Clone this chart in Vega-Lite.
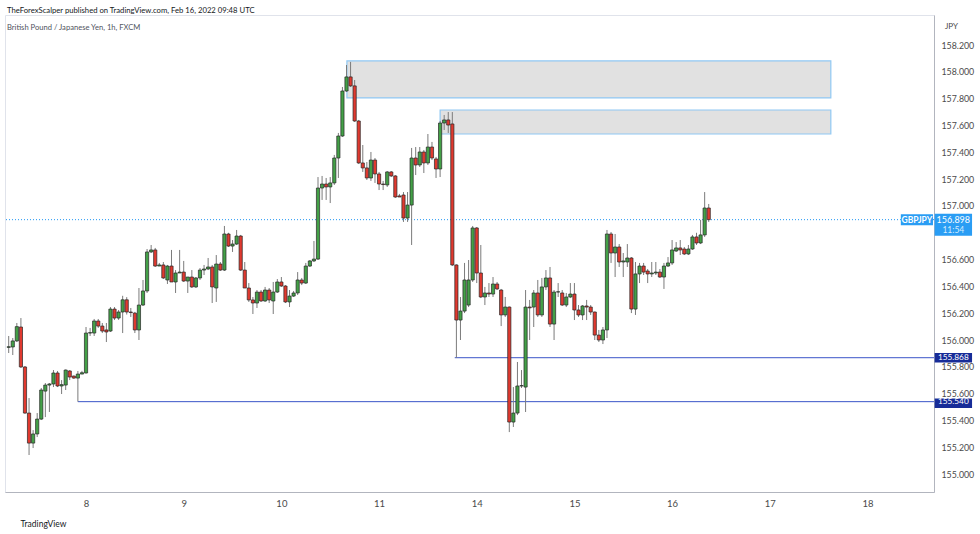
{
  "$schema": "https://vega.github.io/schema/vega-lite/v6.json",
  "width": 929,
  "height": 477,
  "autosize": {"type": "none"},
  "padding": {"left": 5, "top": 15, "right": 46, "bottom": 42},
  "background": "#ffffff",
  "config": {
    "font": "Lato",
    "view": {"stroke": "#e0e3eb"},
    "scale": {"continuousPadding": 0},
    "axis": {"labelOverlap": false}
  },
  "title": {
    "text": "TheForexScalper published on TradingView.com, Feb 16, 2022 09:48 UTC",
    "subtitle": "British Pound / Japanese Yen, 1h, FXCM",
    "anchor": "start",
    "frame": "group",
    "offset": -17,
    "dx": 2,
    "font": "Lato",
    "fontSize": 7.7,
    "fontWeight": "normal",
    "color": "#131722",
    "subtitleFont": "Lato",
    "subtitleFontSize": 7.6,
    "subtitleColor": "#50535e",
    "subtitlePadding": 10
  },
  "datasets": {
    "candles": [
      {"i":0,"o":155.945,"h":156.030,"l":155.903,"c":155.950},
      {"i":1,"o":155.948,"h":156.015,"l":155.888,"c":155.993},
      {"i":2,"o":155.993,"h":156.127,"l":155.985,"c":156.100},
      {"i":3,"o":156.097,"h":156.164,"l":155.791,"c":155.799},
      {"i":4,"o":155.799,"h":155.806,"l":155.450,"c":155.455},
      {"i":5,"o":155.455,"h":155.567,"l":155.142,"c":155.231},
      {"i":6,"o":155.231,"h":155.328,"l":155.194,"c":155.299},
      {"i":7,"o":155.299,"h":155.455,"l":155.276,"c":155.410},
      {"i":8,"o":155.410,"h":155.642,"l":155.403,"c":155.627},
      {"i":9,"o":155.619,"h":155.679,"l":155.425,"c":155.664},
      {"i":10,"o":155.664,"h":155.679,"l":155.463,"c":155.672},
      {"i":11,"o":155.672,"h":155.776,"l":155.649,"c":155.754},
      {"i":12,"o":155.754,"h":155.769,"l":155.649,"c":155.657},
      {"i":13,"o":155.657,"h":155.701,"l":155.597,"c":155.667},
      {"i":14,"o":155.664,"h":155.780,"l":155.627,"c":155.776},
      {"i":15,"o":155.769,"h":155.776,"l":155.701,"c":155.724},
      {"i":16,"o":155.731,"h":155.735,"l":155.710,"c":155.716},
      {"i":17,"o":155.716,"h":155.769,"l":155.540,"c":155.746},
      {"i":18,"o":155.746,"h":155.770,"l":155.746,"c":155.756},
      {"i":19,"o":155.754,"h":156.097,"l":155.750,"c":156.052},
      {"i":20,"o":156.052,"h":156.090,"l":156.030,"c":156.055},
      {"i":21,"o":156.052,"h":156.157,"l":156.030,"c":156.142},
      {"i":22,"o":156.142,"h":156.157,"l":156.090,"c":156.104},
      {"i":23,"o":156.104,"h":156.127,"l":156.052,"c":156.067},
      {"i":24,"o":156.075,"h":156.127,"l":155.985,"c":156.060},
      {"i":25,"o":156.067,"h":156.246,"l":156.060,"c":156.231},
      {"i":26,"o":156.231,"h":156.246,"l":156.149,"c":156.164},
      {"i":27,"o":156.164,"h":156.224,"l":156.150,"c":156.209},
      {"i":28,"o":156.209,"h":156.330,"l":156.052,"c":156.300},
      {"i":29,"o":156.300,"h":156.320,"l":156.190,"c":156.209},
      {"i":30,"o":156.209,"h":156.239,"l":156.172,"c":156.205},
      {"i":31,"o":156.201,"h":156.210,"l":156.052,"c":156.075},
      {"i":32,"o":156.075,"h":156.388,"l":156.000,"c":156.261},
      {"i":33,"o":156.261,"h":156.448,"l":156.254,"c":156.366},
      {"i":34,"o":156.366,"h":156.679,"l":156.351,"c":156.657},
      {"i":35,"o":156.657,"h":156.709,"l":156.649,"c":156.672},
      {"i":36,"o":156.672,"h":156.687,"l":156.545,"c":156.552},
      {"i":37,"o":156.552,"h":156.575,"l":156.552,"c":156.560},
      {"i":38,"o":156.560,"h":156.582,"l":156.455,"c":156.463},
      {"i":39,"o":156.448,"h":156.560,"l":156.418,"c":156.552},
      {"i":40,"o":156.552,"h":156.672,"l":156.433,"c":156.433},
      {"i":41,"o":156.433,"h":156.522,"l":156.351,"c":156.500},
      {"i":42,"o":156.500,"h":156.672,"l":156.500,"c":156.507},
      {"i":43,"o":156.507,"h":156.590,"l":156.433,"c":156.440},
      {"i":44,"o":156.440,"h":156.470,"l":156.351,"c":156.470},
      {"i":45,"o":156.470,"h":156.522,"l":156.388,"c":156.396},
      {"i":46,"o":156.396,"h":156.470,"l":156.388,"c":156.463},
      {"i":47,"o":156.463,"h":156.537,"l":156.448,"c":156.522},
      {"i":48,"o":156.522,"h":156.560,"l":156.485,"c":156.530},
      {"i":49,"o":156.530,"h":156.612,"l":156.522,"c":156.545},
      {"i":50,"o":156.545,"h":156.560,"l":156.276,"c":156.396},
      {"i":51,"o":156.388,"h":156.634,"l":156.284,"c":156.567},
      {"i":52,"o":156.567,"h":156.582,"l":156.515,"c":156.522},
      {"i":53,"o":156.522,"h":156.851,"l":156.515,"c":156.791},
      {"i":54,"o":156.791,"h":156.800,"l":156.694,"c":156.701},
      {"i":55,"o":156.701,"h":156.746,"l":156.657,"c":156.716},
      {"i":56,"o":156.716,"h":156.821,"l":156.709,"c":156.776},
      {"i":57,"o":156.776,"h":156.784,"l":156.515,"c":156.522},
      {"i":58,"o":156.522,"h":156.582,"l":156.388,"c":156.388},
      {"i":59,"o":156.388,"h":156.425,"l":156.284,"c":156.299},
      {"i":60,"o":156.299,"h":156.321,"l":156.194,"c":156.276},
      {"i":61,"o":156.276,"h":156.373,"l":156.239,"c":156.358},
      {"i":62,"o":156.358,"h":156.373,"l":156.284,"c":156.291},
      {"i":63,"o":156.291,"h":156.396,"l":156.284,"c":156.373},
      {"i":64,"o":156.373,"h":156.388,"l":156.276,"c":156.299},
      {"i":65,"o":156.291,"h":156.433,"l":156.194,"c":156.358},
      {"i":66,"o":156.358,"h":156.455,"l":156.351,"c":156.433},
      {"i":67,"o":156.433,"h":156.470,"l":156.396,"c":156.403},
      {"i":68,"o":156.403,"h":156.410,"l":156.276,"c":156.284},
      {"i":69,"o":156.284,"h":156.373,"l":156.246,"c":156.328},
      {"i":70,"o":156.328,"h":156.366,"l":156.321,"c":156.351},
      {"i":71,"o":156.351,"h":156.507,"l":156.336,"c":156.448},
      {"i":72,"o":156.448,"h":156.463,"l":156.410,"c":156.425},
      {"i":73,"o":156.425,"h":156.575,"l":156.418,"c":156.552},
      {"i":74,"o":156.552,"h":156.597,"l":156.545,"c":156.590},
      {"i":75,"o":156.590,"h":156.739,"l":156.582,"c":156.604},
      {"i":76,"o":156.604,"h":157.216,"l":156.597,"c":157.134},
      {"i":77,"o":157.134,"h":157.224,"l":157.045,"c":157.164},
      {"i":78,"o":157.164,"h":157.209,"l":157.045,"c":157.142},
      {"i":79,"o":157.142,"h":157.216,"l":157.022,"c":157.172},
      {"i":80,"o":157.172,"h":157.381,"l":157.157,"c":157.358},
      {"i":81,"o":157.358,"h":157.545,"l":157.209,"c":157.522},
      {"i":82,"o":157.522,"h":157.888,"l":157.515,"c":157.858},
      {"i":83,"o":157.858,"h":158.052,"l":157.851,"c":157.963},
      {"i":84,"o":157.963,"h":158.075,"l":157.888,"c":157.896},
      {"i":85,"o":157.896,"h":157.940,"l":157.627,"c":157.634},
      {"i":86,"o":157.634,"h":157.642,"l":157.313,"c":157.321},
      {"i":87,"o":157.321,"h":157.455,"l":157.254,"c":157.284},
      {"i":88,"o":157.284,"h":157.328,"l":157.194,"c":157.209},
      {"i":89,"o":157.209,"h":157.403,"l":157.187,"c":157.343},
      {"i":90,"o":157.343,"h":157.358,"l":157.172,"c":157.239},
      {"i":91,"o":157.239,"h":157.254,"l":157.119,"c":157.164},
      {"i":92,"o":157.164,"h":157.187,"l":157.119,"c":157.160},
      {"i":93,"o":157.157,"h":157.261,"l":157.142,"c":157.254},
      {"i":94,"o":157.254,"h":157.261,"l":157.216,"c":157.224},
      {"i":95,"o":157.224,"h":157.231,"l":157.060,"c":157.067},
      {"i":96,"o":157.075,"h":157.090,"l":157.067,"c":157.067},
      {"i":97,"o":157.082,"h":157.104,"l":156.881,"c":156.910},
      {"i":98,"o":156.910,"h":157.104,"l":156.881,"c":157.007},
      {"i":99,"o":157.007,"h":157.433,"l":156.709,"c":157.358},
      {"i":100,"o":157.358,"h":157.440,"l":157.231,"c":157.306},
      {"i":101,"o":157.306,"h":157.440,"l":157.291,"c":157.403},
      {"i":102,"o":157.403,"h":157.418,"l":157.246,"c":157.321},
      {"i":103,"o":157.321,"h":157.537,"l":157.306,"c":157.440},
      {"i":104,"o":157.440,"h":157.478,"l":157.343,"c":157.358},
      {"i":105,"o":157.351,"h":157.366,"l":157.209,"c":157.276},
      {"i":106,"o":157.276,"h":157.634,"l":157.216,"c":157.619},
      {"i":107,"o":157.619,"h":157.679,"l":157.567,"c":157.642},
      {"i":108,"o":157.642,"h":157.701,"l":157.545,"c":157.604},
      {"i":109,"o":157.612,"h":157.701,"l":156.552,"c":156.560},
      {"i":110,"o":156.560,"h":156.565,"l":155.868,"c":156.149},
      {"i":111,"o":156.149,"h":156.321,"l":156.000,"c":156.216},
      {"i":112,"o":156.216,"h":156.575,"l":156.201,"c":156.448},
      {"i":113,"o":156.261,"h":156.597,"l":156.246,"c":156.448},
      {"i":114,"o":156.448,"h":156.851,"l":156.433,"c":156.836},
      {"i":115,"o":156.836,"h":156.843,"l":156.425,"c":156.500},
      {"i":116,"o":156.500,"h":156.709,"l":156.313,"c":156.321},
      {"i":117,"o":156.321,"h":156.396,"l":156.261,"c":156.351},
      {"i":118,"o":156.351,"h":156.425,"l":156.321,"c":156.343},
      {"i":119,"o":156.343,"h":156.470,"l":156.321,"c":156.418},
      {"i":120,"o":156.418,"h":156.433,"l":156.373,"c":156.381},
      {"i":121,"o":156.373,"h":156.381,"l":156.104,"c":156.187},
      {"i":122,"o":156.187,"h":156.321,"l":156.172,"c":156.246},
      {"i":123,"o":156.246,"h":156.250,"l":155.313,"c":155.388},
      {"i":124,"o":155.388,"h":155.649,"l":155.351,"c":155.455},
      {"i":125,"o":155.455,"h":155.836,"l":155.440,"c":155.657},
      {"i":126,"o":155.657,"h":155.776,"l":155.642,"c":155.660},
      {"i":127,"o":155.649,"h":156.373,"l":155.463,"c":156.246},
      {"i":128,"o":156.246,"h":156.299,"l":156.000,"c":156.240},
      {"i":129,"o":156.246,"h":156.373,"l":156.097,"c":156.351},
      {"i":130,"o":156.351,"h":156.448,"l":156.172,"c":156.187},
      {"i":131,"o":156.187,"h":156.463,"l":156.172,"c":156.396},
      {"i":132,"o":156.396,"h":156.522,"l":156.373,"c":156.463},
      {"i":133,"o":156.463,"h":156.545,"l":156.097,"c":156.119},
      {"i":134,"o":156.119,"h":156.373,"l":156.000,"c":156.358},
      {"i":135,"o":156.358,"h":156.425,"l":156.321,"c":156.360},
      {"i":136,"o":156.351,"h":156.373,"l":156.254,"c":156.261},
      {"i":137,"o":156.261,"h":156.351,"l":156.246,"c":156.321},
      {"i":138,"o":156.321,"h":156.425,"l":156.313,"c":156.343},
      {"i":139,"o":156.343,"h":156.425,"l":156.149,"c":156.224},
      {"i":140,"o":156.224,"h":156.261,"l":156.172,"c":156.187},
      {"i":141,"o":156.187,"h":156.261,"l":156.149,"c":156.254},
      {"i":142,"o":156.254,"h":156.299,"l":156.149,"c":156.246},
      {"i":143,"o":156.246,"h":156.261,"l":156.187,"c":156.209},
      {"i":144,"o":156.209,"h":156.212,"l":156.000,"c":156.037},
      {"i":145,"o":156.037,"h":156.075,"l":155.985,"c":156.000},
      {"i":146,"o":156.000,"h":156.097,"l":155.970,"c":156.075},
      {"i":147,"o":156.075,"h":156.821,"l":156.015,"c":156.791},
      {"i":148,"o":156.791,"h":156.806,"l":156.575,"c":156.649},
      {"i":149,"o":156.649,"h":156.791,"l":156.470,"c":156.694},
      {"i":150,"o":156.694,"h":156.716,"l":156.545,"c":156.582},
      {"i":151,"o":156.582,"h":156.649,"l":156.470,"c":156.590},
      {"i":152,"o":156.582,"h":156.716,"l":156.545,"c":156.612},
      {"i":153,"o":156.612,"h":156.619,"l":156.201,"c":156.231},
      {"i":154,"o":156.231,"h":156.582,"l":156.187,"c":156.493},
      {"i":155,"o":156.493,"h":156.575,"l":156.425,"c":156.552},
      {"i":156,"o":156.552,"h":156.575,"l":156.485,"c":156.507},
      {"i":157,"o":156.515,"h":156.530,"l":156.425,"c":156.493},
      {"i":158,"o":156.493,"h":156.582,"l":156.470,"c":156.500},
      {"i":159,"o":156.500,"h":156.582,"l":156.485,"c":156.507},
      {"i":160,"o":156.507,"h":156.530,"l":156.463,"c":156.470},
      {"i":161,"o":156.470,"h":156.575,"l":156.381,"c":156.552},
      {"i":162,"o":156.552,"h":156.619,"l":156.545,"c":156.575},
      {"i":163,"o":156.575,"h":156.746,"l":156.560,"c":156.672},
      {"i":164,"o":156.664,"h":156.731,"l":156.657,"c":156.687},
      {"i":165,"o":156.687,"h":156.746,"l":156.634,"c":156.672},
      {"i":166,"o":156.679,"h":156.694,"l":156.634,"c":156.642},
      {"i":167,"o":156.642,"h":156.709,"l":156.634,"c":156.679},
      {"i":168,"o":156.679,"h":156.784,"l":156.672,"c":156.769},
      {"i":169,"o":156.769,"h":156.800,"l":156.709,"c":156.724},
      {"i":170,"o":156.724,"h":156.896,"l":156.716,"c":156.784},
      {"i":171,"o":156.784,"h":157.104,"l":156.769,"c":156.985},
      {"i":172,"o":156.985,"h":157.015,"l":156.881,"c":156.898}
    ],
    "zones": [
      {"start": 83.1, "end": 202.0, "top": 158.082, "bottom": 157.806},
      {"start": 106.0, "end": 202.0, "top": 157.716, "bottom": 157.537}
    ],
    "levels": [
      {"start": 109.6, "price": 155.868, "label": "155.868"},
      {"start": 17.0, "price": 155.540, "label": "155.540"}
    ],
    "last": [
      {"price": 156.898, "label": "156.898", "timer": "11:54", "symbol": "GBPJPY"}
    ]
  },
  "layer": [
    {
      "data": {"name": "candles"},
      "mark": {"type": "rule", "color": "#7b7b7b", "strokeWidth": 1, "opacity": 0},
      "encoding": {
        "x": {
          "field": "i", "type": "quantitative",
          "scale": {"domain": [-0.909, 227.35], "nice": false, "zero": false, "padding": 0},
          "axis": {
            "values": [19, 43, 67, 91, 115, 139, 163, 187, 211],
            "tickCount": 40,
            "labelExpr": "['8','9','10','11','14','15','16','17','18'][round((datum.value-19)/24)]",
            "grid": false, "ticks": false, "labelOverlap": false,
            "domainColor": "#b2b5be", "domainWidth": 1,
            "labelFont": "Lato", "labelFontSize": 9.5, "labelColor": "#4a4a4a", "labelPadding": 6,
            "title": "TradingView", "titleAnchor": "start", "titleAlign": "left", "titleX": 15, "titleY": 31,
            "titleBaseline": "middle", "titleFont": "Lato", "titleFontSize": 8.5, "titleFontWeight": "normal", "titleColor": "#131722"
          }
        },
        "y": {
          "field": "l", "type": "quantitative",
          "scale": {"domain": [154.866, 158.425], "nice": false, "zero": false, "padding": 0},
          "axis": {
            "orient": "right",
            "values": [155.0, 155.2, 155.4, 155.6, 155.8, 156.0, 156.2, 156.4, 156.6, 157.0, 157.2, 157.4, 157.6, 157.8, 158.0, 158.2],
            "tickCount": 40,
            "format": ".3f",
            "grid": false, "ticks": false, "labelOverlap": false,
            "domainColor": "#b2b5be", "domainWidth": 1,
            "labelFont": "Lato", "labelFontSize": 8.8, "labelColor": "#4a4a4a", "labelPadding": 7,
            "title": "JPY", "titleAngle": 0, "titleX": 17, "titleY": 11, "titleAlign": "center", "titleBaseline": "middle",
            "titleFont": "Lato", "titleFontSize": 8, "titleFontWeight": "normal", "titleColor": "#4a4a4a"
          }
        },
        "y2": {"field": "h"}
      }
    },
    {
      "data": {"name": "zones"},
      "mark": {"type": "rect", "fill": "#e1e1e1", "stroke": "#90c8f3", "strokeWidth": 1.2},
      "encoding": {
        "x": {"field": "start", "type": "quantitative"},
        "x2": {"field": "end"},
        "y": {"field": "top", "type": "quantitative"},
        "y2": {"field": "bottom"}
      }
    },
    {
      "data": {"name": "last"},
      "mark": {"type": "rule", "color": "#2196f3", "strokeWidth": 1, "strokeDash": [1, 2]},
      "encoding": {
        "y": {"field": "price", "type": "quantitative"}
      }
    },
    {
      "data": {"name": "levels"},
      "mark": {"type": "rule", "color": "#3a55c8", "strokeWidth": 1},
      "encoding": {
        "x": {"field": "start", "type": "quantitative"},
        "x2": {"datum": 227.35},
        "y": {"field": "price", "type": "quantitative"}
      }
    },
    {
      "data": {"name": "candles"},
      "mark": {"type": "rule", "color": "#7b7b7b", "strokeWidth": 1},
      "encoding": {
        "x": {"field": "i", "type": "quantitative"},
        "y": {"field": "l", "type": "quantitative"},
        "y2": {"field": "h"}
      }
    },
    {
      "data": {"name": "candles"},
      "mark": {"type": "bar", "width": 3.2, "stroke": "#262626", "strokeWidth": 0.7},
      "encoding": {
        "x": {"field": "i", "type": "quantitative"},
        "y": {"field": "o", "type": "quantitative"},
        "y2": {"field": "c"},
        "color": {"condition": {"test": "datum.c >= datum.o", "value": "#43a047"}, "value": "#e0392f"}
      }
    },
    {
      "data": {"name": "levels"},
      "transform": [{"filter": "datum.price > 155.7"}],
      "mark": {"type": "bar", "height": 9.5, "color": "#172c98"},
      "encoding": {
        "x": {"datum": 227.5, "type": "quantitative"},
        "x2": {"datum": 236.7},
        "y": {"field": "price", "type": "quantitative"}
      }
    },
    {
      "data": {"name": "levels"},
      "transform": [{"filter": "datum.price < 155.7"}],
      "mark": {"type": "bar", "height": 9.5, "yOffset": 1.5, "color": "#172c98"},
      "encoding": {
        "x": {"datum": 227.5, "type": "quantitative"},
        "x2": {"datum": 236.7},
        "y": {"field": "price", "type": "quantitative"}
      }
    },
    {
      "data": {"name": "levels"},
      "mark": {"type": "text", "color": "#ffffff", "font": "Lato", "fontSize": 8.3, "align": "center", "baseline": "middle"},
      "encoding": {
        "x": {"datum": 232.1, "type": "quantitative"},
        "y": {"field": "price", "type": "quantitative"},
        "yOffset": {"condition": {"test": "datum.price < 155.7", "value": 1.5}, "value": 0},
        "text": {"field": "label"}
      }
    },
    {
      "data": {"name": "last"},
      "mark": {"type": "bar", "height": 22, "yOffset": 5, "color": "#2a9df4"},
      "encoding": {
        "x": {"datum": 227.5, "type": "quantitative"},
        "x2": {"datum": 236.7},
        "y": {"field": "price", "type": "quantitative"}
      }
    },
    {
      "data": {"name": "last"},
      "mark": {"type": "bar", "height": 11, "color": "#2a9df4"},
      "encoding": {
        "x": {"datum": 219.2, "type": "quantitative"},
        "x2": {"datum": 227.1},
        "y": {"field": "price", "type": "quantitative"}
      }
    },
    {
      "data": {"name": "last"},
      "mark": {"type": "text", "color": "#ffffff", "font": "Lato", "fontSize": 8.5, "fontWeight": "bold", "align": "center", "baseline": "middle"},
      "encoding": {
        "x": {"datum": 223.15, "type": "quantitative"},
        "y": {"field": "price", "type": "quantitative"},
        "text": {"field": "symbol"}
      }
    },
    {
      "data": {"name": "last"},
      "mark": {"type": "text", "color": "#ffffff", "font": "Lato", "fontSize": 9, "align": "center", "baseline": "middle"},
      "encoding": {
        "x": {"datum": 232.1, "type": "quantitative"},
        "y": {"field": "price", "type": "quantitative"},
        "text": {"field": "label"}
      }
    },
    {
      "data": {"name": "last"},
      "mark": {"type": "text", "color": "#d6ebfd", "font": "Lato", "fontSize": 8.5, "align": "center", "baseline": "middle", "yOffset": 10},
      "encoding": {
        "x": {"datum": 232.1, "type": "quantitative"},
        "y": {"field": "price", "type": "quantitative"},
        "text": {"field": "timer"}
      }
    }
  ]
}
